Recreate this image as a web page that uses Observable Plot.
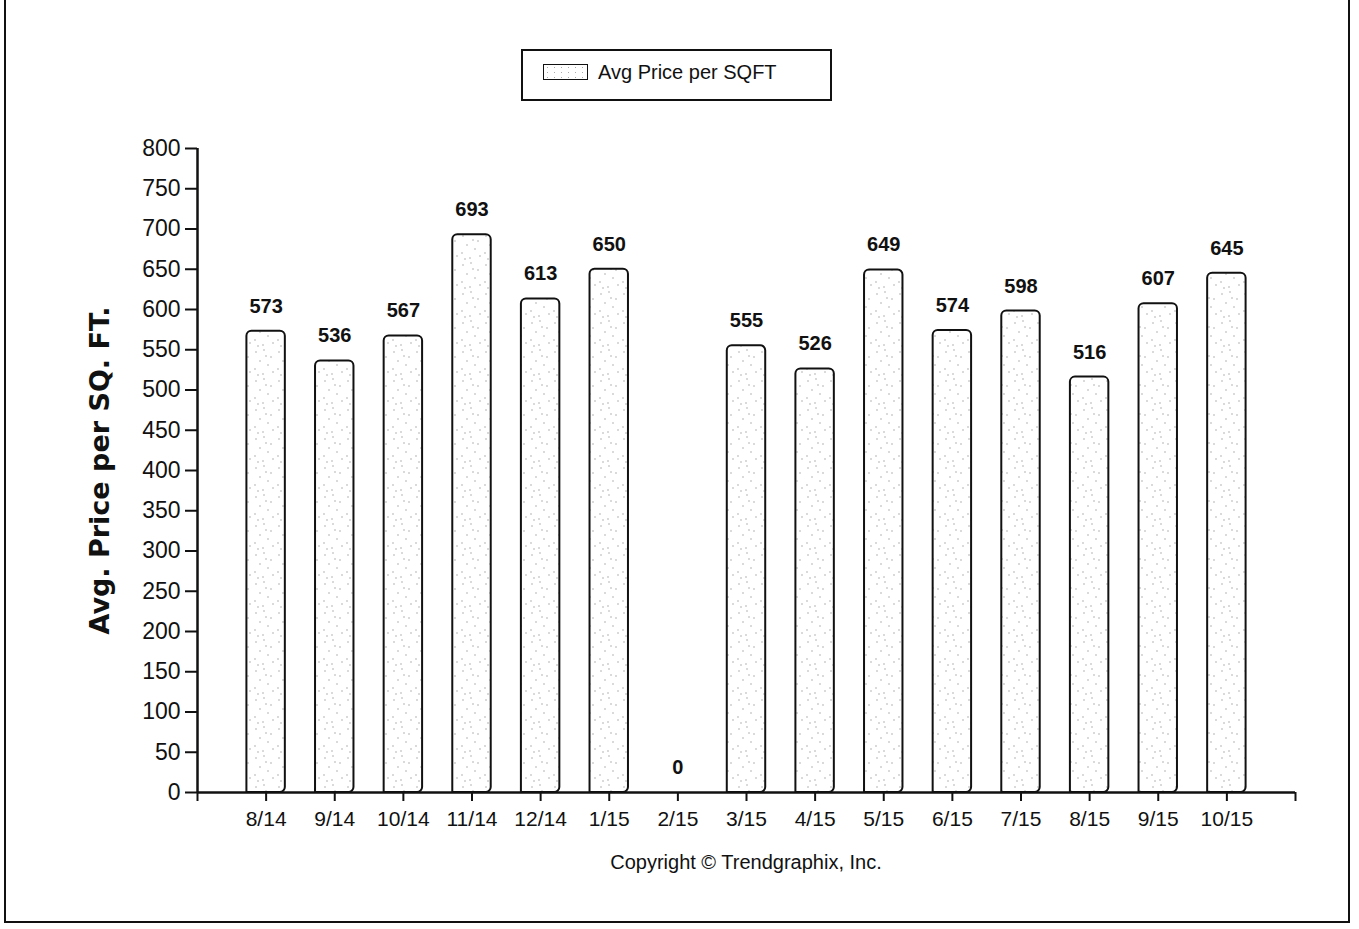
<!DOCTYPE html>
<html>
<head>
<meta charset="utf-8">
<script src="https://cdn.jsdelivr.net/npm/d3@7"></script>
<script src="https://cdn.jsdelivr.net/npm/@observablehq/plot@0.6"></script>
<style>
  body { margin: 0; background: #fff; }
  #wrap { position: relative; width: 1359px; height: 929px; overflow: hidden; background: #fff; }
  #frame { position: absolute; left: 4px; top: -4px; width: 1346px; height: 927px; border-left: 2px solid #111; border-right: 2px solid #111; border-bottom: 2px solid #111; box-sizing: border-box; pointer-events: none; }
  #legend { position: absolute; left: 521px; top: 49px; width: 311px; height: 52px; box-sizing: border-box; border: 2px solid #111; font-family: "Liberation Sans", Arial, sans-serif; font-size: 20px; color: #111; }
  #legend .sw { position: absolute; left: 20px; top: 13px; width: 45px; height: 16px; border: 1.5px solid #111; box-sizing: border-box; background: #fff radial-gradient(#aaa 0.6px, transparent 1px) 0 0 / 7px 5px; }
  #legend .lb { position: absolute; left: 75px; top: 10px; white-space: nowrap; }
  #copy { position: absolute; left: 0; width: 1492px; top: 851px; text-align: center; font-family: "Liberation Sans", Arial, sans-serif; font-size: 20px; color: #111; }
</style>
</head>
<body>
<div id="wrap">
  <div id="chart"></div>
  <div id="legend"><div class="sw"></div><div class="lb">Avg Price per SQFT</div></div>
  <div id="copy">Copyright © Trendgraphix, Inc.</div>
  <div id="frame"></div>
</div>
<script>
const months = ["8/14","9/14","10/14","11/14","12/14","1/15","2/15","3/15","4/15","5/15","6/15","7/15","8/15","9/15","10/15"];
const values = [573,536,567,693,613,650,0,555,526,649,574,598,516,607,645];
const yTicks = d3.range(0, 801, 50);
const yLabel = "Avg. Price per SQ. FT.";

const data = months.map((m, i) => ({month: m, idx: i + 1, value: values[i]}));
const halfW = 0.28;

const chart = Plot.plot({
  width: 1359,
  height: 929,
  marginLeft: 197,
  marginRight: 64,
  marginTop: 148,
  marginBottom: 137,
  style: {background: "transparent", color: "#111"},
  x: {type: "linear", domain: [0, months.length + 1]},
  y: {domain: [0, 800]},
  marks: [
    Plot.rect(data.filter(d => d.value > 0), {
      x1: d => d.idx - halfW,
      x2: d => d.idx + halfW,
      y1: 0,
      y2: "value",
      fill: "url(#speck)",
      stroke: "#111",
      strokeWidth: 2,
      ry2: 5,
      rx2: 5
    }),
    Plot.text(data, {
      x: "idx",
      y: "value",
      text: d => String(d.value),
      dy: -25,
      lineAnchor: "middle",
      fontSize: 20,
      fontWeight: "bold",
      fontFamily: "Liberation Sans, Arial, sans-serif",
      fill: "#111"
    }),
    Plot.ruleX([0], {y1: 0, y2: 800, stroke: "#111", strokeWidth: 2.5}),
    Plot.ruleY([0], {stroke: "#111", strokeWidth: 2.5}),
    Plot.axisY({
      ticks: yTicks,
      tickSize: 12,
      tickPadding: 5,
      fontSize: 23,
      fontFamily: "Liberation Sans, Arial, sans-serif",
      label: null,
      strokeWidth: 2
    }),
    Plot.axisX({
      ticks: d3.range(0, months.length + 2),
      tickFormat: i => months[i - 1] ?? "",
      tickSize: 9,
      tickPadding: 10,
      fontSize: 21,
      fontFamily: "Liberation Sans, Arial, sans-serif",
      label: null,
      strokeWidth: 2
    }),
    Plot.text([yLabel], {
      frameAnchor: "left",
      dx: -97,
      rotate: -90,
      textAnchor: "middle",
      text: d => d,
      fontSize: 27,
      fontWeight: "bold",
      fontFamily: "DejaVu Sans, Verdana, sans-serif",
      fill: "#111"
    })
  ]
});

const svg = d3.select(chart);
const defs = svg.insert("defs", ":first-child");
const pat = defs.append("pattern")
  .attr("id", "speck")
  .attr("patternUnits", "userSpaceOnUse")
  .attr("width", 23).attr("height", 29);
pat.append("rect").attr("width", 23).attr("height", 29).attr("fill", "#fff");
const dots = [[3,4],[11,2],[18,9],[7,13],[15,17],[2,21],[20,24],[10,26],[13,8],[5,27]];
dots.forEach(([cx, cy]) => pat.append("circle").attr("cx", cx).attr("cy", cy).attr("r", 0.7).attr("fill", "#999"));

document.getElementById("chart").appendChild(chart);
</script>
</body>
</html>
